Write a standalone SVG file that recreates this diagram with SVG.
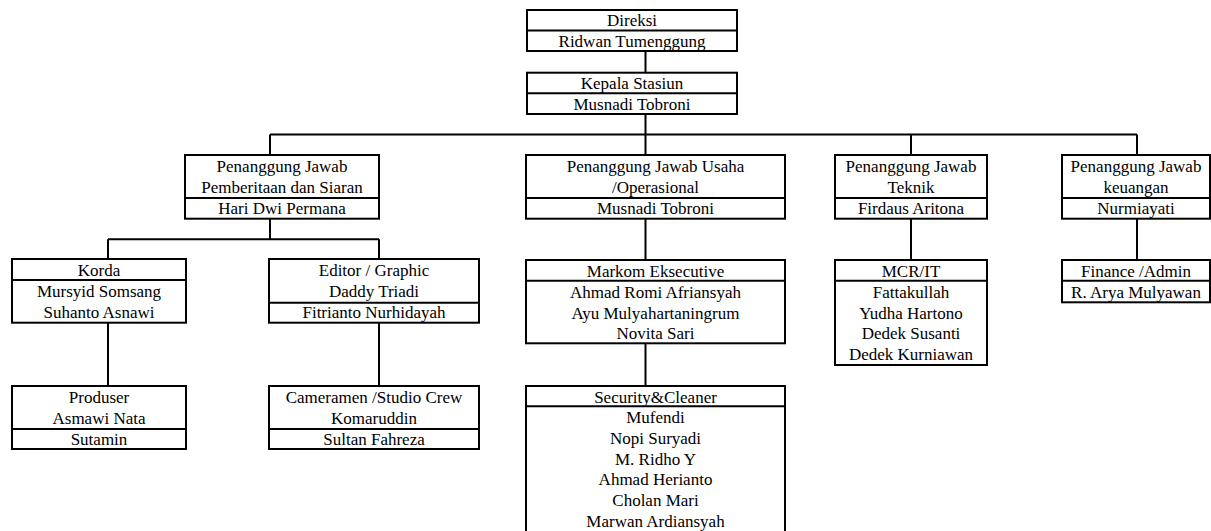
<svg xmlns="http://www.w3.org/2000/svg" width="1211" height="531" viewBox="0 0 1211 531">
<style>
.box{fill:#fff;stroke:#000;stroke-width:2}
.div{stroke:#000;stroke-width:2}
.con{fill:none;stroke:#000;stroke-width:2}
text{font-family:"Liberation Serif","Times New Roman",serif;font-size:17px;fill:#000;text-anchor:middle}
</style>
<rect width="1211" height="531" fill="#fff"/>
<g id="connectors">
<path class="con" d="M645.5 51V72.7M645.5 114V155M270 134.5H1137M270 134.5V155M911 134.5V155M1137 134.5V155"/>
<path class="con" d="M270 218.7V239.3M108 239.3H379M108 239.3V259M379 239.3V259M108 322.7V386M379 322.7V386"/>
<path class="con" d="M645.5 218.7V260M645.5 343.3V386M911 218.7V260M1137 218.7V260"/>
</g>
<g id="direksi">
<rect class="box" x="527" y="10" width="210" height="41"/>
<line class="div" x1="527" y1="30.5" x2="737" y2="30.5"/>
<text x="632" y="26">Direksi</text>
<text x="632" y="47">Ridwan Tumenggung</text>
</g>
<g id="kepala">
<rect class="box" x="527" y="72.7" width="210" height="41.3"/>
<line class="div" x1="527" y1="93.3" x2="737" y2="93.3"/>
<text x="632" y="89">Kepala Stasiun</text>
<text x="632" y="110">Musnadi Tobroni</text>
</g>
<g id="pj-pemberitaan">
<rect class="box" x="185" y="155" width="194" height="63.7"/>
<line class="div" x1="185" y1="198" x2="379" y2="198"/>
<text x="282" y="172">Penanggung Jawab</text>
<text x="282" y="193">Pemberitaan dan Siaran</text>
<text x="282" y="214">Hari Dwi Permana</text>
</g>
<g id="pj-usaha">
<rect class="box" x="526" y="155" width="259" height="63.7"/>
<line class="div" x1="526" y1="198" x2="785" y2="198"/>
<text x="655.5" y="172">Penanggung Jawab Usaha</text>
<text x="655.5" y="193">/Operasional</text>
<text x="655.5" y="214">Musnadi Tobroni</text>
</g>
<g id="pj-teknik">
<rect class="box" x="835" y="155" width="152" height="63.7"/>
<line class="div" x1="835" y1="198" x2="987" y2="198"/>
<text x="911" y="172">Penanggung Jawab</text>
<text x="911" y="193">Teknik</text>
<text x="911" y="214">Firdaus Aritona</text>
</g>
<g id="pj-keuangan">
<rect class="box" x="1062" y="155" width="148" height="63.7"/>
<line class="div" x1="1062" y1="198" x2="1210" y2="198"/>
<text x="1136" y="172">Penanggung Jawab</text>
<text x="1136" y="193">keuangan</text>
<text x="1136" y="214">Nurmiayati</text>
</g>
<g id="korda">
<rect class="box" x="12" y="259" width="174" height="63.7"/>
<line class="div" x1="12" y1="280" x2="186" y2="280"/>
<text x="99" y="276">Korda</text>
<text x="99" y="297">Mursyid Somsang</text>
<text x="99" y="318">Suhanto Asnawi</text>
</g>
<g id="editor">
<rect class="box" x="269" y="259" width="210" height="63.7"/>
<line class="div" x1="269" y1="302.7" x2="479" y2="302.7"/>
<text x="374" y="276">Editor / Graphic</text>
<text x="374" y="297">Daddy Triadi</text>
<text x="374" y="318">Fitrianto Nurhidayah</text>
</g>
<g id="produser">
<rect class="box" x="12" y="386" width="174" height="63"/>
<line class="div" x1="12" y1="429" x2="186" y2="429"/>
<text x="99" y="403">Produser</text>
<text x="99" y="424">Asmawi Nata</text>
<text x="99" y="445">Sutamin</text>
</g>
<g id="cameramen">
<rect class="box" x="269" y="386" width="210" height="63"/>
<line class="div" x1="269" y1="429" x2="479" y2="429"/>
<text x="374" y="403">Cameramen /Studio Crew</text>
<text x="374" y="424">Komaruddin</text>
<text x="374" y="445">Sultan Fahreza</text>
</g>
<g id="markom">
<rect class="box" x="526" y="260" width="259" height="83.3"/>
<line class="div" x1="526" y1="280.7" x2="785" y2="280.7"/>
<text x="655.5" y="277">Markom Eksecutive</text>
<text x="655.5" y="298">Ahmad Romi Afriansyah</text>
<text x="655.5" y="318.5">Ayu Mulyahartaningrum</text>
<text x="655.5" y="339">Novita Sari</text>
</g>
<g id="security">
<rect class="box" x="526" y="386" width="259" height="160"/>
<line class="div" x1="526" y1="406.3" x2="785" y2="406.3"/>
<text x="655.5" y="402.5">Security&amp;Cleaner</text>
<text x="655.5" y="423">Mufendi</text>
<text x="655.5" y="444">Nopi Suryadi</text>
<text x="655.5" y="464.5">M. Ridho Y</text>
<text x="655.5" y="485">Ahmad Herianto</text>
<text x="655.5" y="506">Cholan Mari</text>
<text x="655.5" y="526.5">Marwan Ardiansyah</text>
</g>
<g id="mcr-it">
<rect class="box" x="835" y="260" width="152" height="105"/>
<line class="div" x1="835" y1="280.7" x2="987" y2="280.7"/>
<text x="911" y="277">MCR/IT</text>
<text x="911" y="298">Fattakullah</text>
<text x="911" y="318.5">Yudha Hartono</text>
<text x="911" y="339">Dedek Susanti</text>
<text x="911" y="360">Dedek Kurniawan</text>
</g>
<g id="finance">
<rect class="box" x="1062" y="260" width="148" height="42.3"/>
<line class="div" x1="1062" y1="280.7" x2="1210" y2="280.7"/>
<text x="1136" y="277">Finance /Admin</text>
<text x="1136" y="298">R. Arya Mulyawan</text>
</g>
</svg>
